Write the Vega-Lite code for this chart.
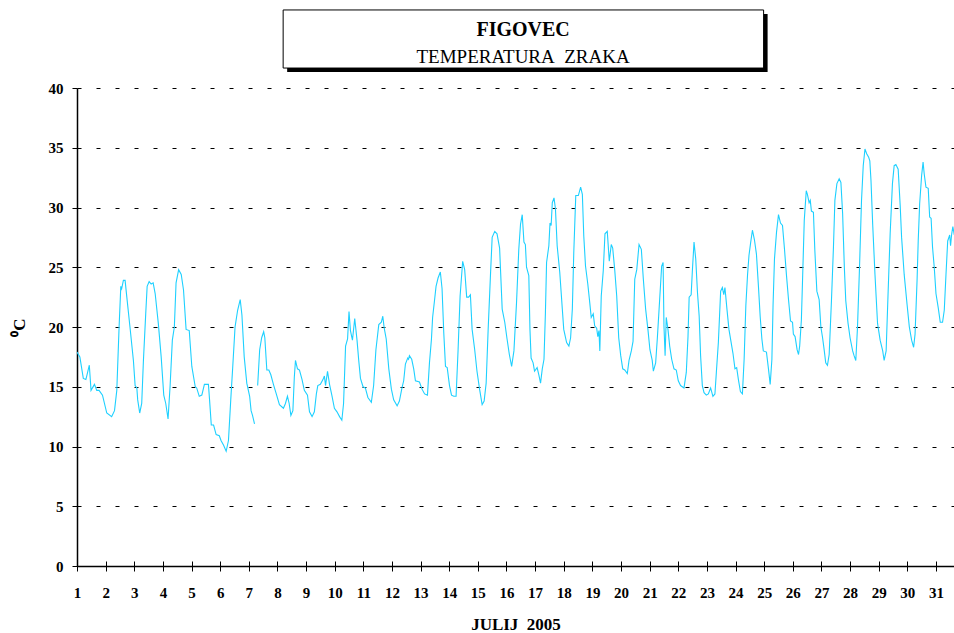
{
  "$schema": "https://vega.github.io/schema/vega-lite/v6.json",
  "width": 877,
  "height": 478,
  "autosize": "none",
  "padding": {"left": 77, "top": 88, "right": 0, "bottom": 67},
  "background": "white",
  "config": {
    "view": {"stroke": null},
    "font": "Liberation Serif",
    "axis": {"labelFont": "Liberation Serif", "titleFont": "Liberation Serif", "labelColor": "black", "titleColor": "black"}
  },
  "datasets": {
    "temp": [
      {"day":1.00,"temp":17.9,"seg":1},{"day":1.10,"temp":17.5,"seg":1},{"day":1.22,"temp":15.7,"seg":1},{"day":1.31,"temp":15.6,"seg":1},{"day":1.36,"temp":16.1,"seg":1},{"day":1.43,"temp":16.8,"seg":1},{"day":1.49,"temp":14.7,"seg":1},{"day":1.61,"temp":15.2,"seg":1},{"day":1.69,"temp":14.7,"seg":1},{"day":1.77,"temp":14.7,"seg":1},{"day":1.89,"temp":14.3,"seg":1},{"day":2.04,"temp":12.8,"seg":1},{"day":2.21,"temp":12.5,"seg":1},{"day":2.31,"temp":13.0,"seg":1},{"day":2.39,"temp":14.7,"seg":1},{"day":2.47,"temp":20.0,"seg":1},{"day":2.53,"temp":23.4,"seg":1},{"day":2.56,"temp":23.2,"seg":1},{"day":2.62,"temp":23.9,"seg":1},{"day":2.68,"temp":23.9,"seg":1},{"day":2.74,"temp":22.5,"seg":1},{"day":2.85,"temp":20.0,"seg":1},{"day":2.97,"temp":17.2,"seg":1},{"day":3.03,"temp":15.1,"seg":1},{"day":3.09,"temp":14.9,"seg":1},{"day":3.12,"temp":13.9,"seg":1},{"day":3.19,"temp":12.8,"seg":1},{"day":3.26,"temp":13.6,"seg":1},{"day":3.32,"temp":17.2,"seg":1},{"day":3.40,"temp":21.1,"seg":1},{"day":3.45,"temp":23.4,"seg":1},{"day":3.52,"temp":23.8,"seg":1},{"day":3.59,"temp":23.6,"seg":1},{"day":3.66,"temp":23.7,"seg":1},{"day":3.73,"temp":22.8,"seg":1},{"day":3.84,"temp":20.3,"seg":1},{"day":3.94,"temp":17.5,"seg":1},{"day":4.03,"temp":14.3,"seg":1},{"day":4.10,"temp":13.6,"seg":1},{"day":4.18,"temp":12.3,"seg":1},{"day":4.25,"temp":15.0,"seg":1},{"day":4.33,"temp":18.9,"seg":1},{"day":4.40,"temp":20.0,"seg":1},{"day":4.46,"temp":23.7,"seg":1},{"day":4.55,"temp":24.8,"seg":1},{"day":4.64,"temp":24.4,"seg":1},{"day":4.72,"temp":23.1,"seg":1},{"day":4.81,"temp":19.8,"seg":1},{"day":4.92,"temp":19.7,"seg":1},{"day":5.01,"temp":16.7,"seg":1},{"day":5.13,"temp":15.0,"seg":1},{"day":5.18,"temp":14.9,"seg":1},{"day":5.27,"temp":14.2,"seg":1},{"day":5.36,"temp":14.3,"seg":1},{"day":5.45,"temp":15.2,"seg":1},{"day":5.59,"temp":15.2,"seg":1},{"day":5.63,"temp":13.9,"seg":1},{"day":5.69,"temp":11.8,"seg":1},{"day":5.77,"temp":11.8,"seg":1},{"day":5.86,"temp":11.0,"seg":1},{"day":5.97,"temp":10.9,"seg":1},{"day":6.03,"temp":10.5,"seg":1},{"day":6.12,"temp":10.1,"seg":1},{"day":6.21,"temp":9.6,"seg":1},{"day":6.29,"temp":10.5,"seg":1},{"day":6.37,"temp":13.9,"seg":1},{"day":6.44,"temp":16.7,"seg":1},{"day":6.52,"temp":20.0,"seg":1},{"day":6.61,"temp":21.4,"seg":1},{"day":6.70,"temp":22.3,"seg":1},{"day":6.76,"temp":21.0,"seg":1},{"day":6.84,"temp":17.5,"seg":1},{"day":6.93,"temp":15.3,"seg":1},{"day":7.03,"temp":14.2,"seg":1},{"day":7.08,"temp":13.0,"seg":1},{"day":7.13,"temp":12.6,"seg":1},{"day":7.20,"temp":11.9,"seg":1},
      {"day":7.31,"temp":15.1,"seg":2},{"day":7.38,"temp":18.1,"seg":2},{"day":7.45,"temp":19.1,"seg":2},{"day":7.52,"temp":19.6,"seg":2},{"day":7.56,"temp":19.1,"seg":2},{"day":7.63,"temp":16.4,"seg":2},{"day":7.70,"temp":16.4,"seg":2},{"day":7.77,"temp":16.0,"seg":2},{"day":7.86,"temp":15.2,"seg":2},{"day":7.96,"temp":14.4,"seg":2},{"day":8.07,"temp":13.5,"seg":2},{"day":8.21,"temp":13.2,"seg":2},{"day":8.28,"temp":13.6,"seg":2},{"day":8.35,"temp":14.2,"seg":2},{"day":8.41,"temp":13.6,"seg":2},{"day":8.47,"temp":12.6,"seg":2},{"day":8.54,"temp":13.0,"seg":2},{"day":8.59,"temp":15.8,"seg":2},{"day":8.63,"temp":17.2,"seg":2},{"day":8.70,"temp":16.5,"seg":2},{"day":8.77,"temp":16.4,"seg":2},{"day":8.86,"temp":15.6,"seg":2},{"day":8.94,"temp":14.7,"seg":2},{"day":9.05,"temp":14.3,"seg":2},{"day":9.12,"temp":12.9,"seg":2},{"day":9.21,"temp":12.5,"seg":2},{"day":9.29,"temp":12.9,"seg":2},{"day":9.36,"temp":14.4,"seg":2},{"day":9.41,"temp":15.1,"seg":2},{"day":9.50,"temp":15.2,"seg":2},{"day":9.59,"temp":15.6,"seg":2},{"day":9.64,"temp":15.9,"seg":2},{"day":9.68,"temp":15.1,"seg":2},{"day":9.75,"temp":16.3,"seg":2},{"day":9.82,"temp":15.2,"seg":2},{"day":9.90,"temp":14.3,"seg":2},{"day":9.99,"temp":13.2,"seg":2},{"day":10.08,"temp":12.9,"seg":2},{"day":10.17,"temp":12.5,"seg":2},{"day":10.25,"temp":12.2,"seg":2},{"day":10.31,"temp":13.6,"seg":2},{"day":10.38,"temp":18.4,"seg":2},{"day":10.45,"temp":19.0,"seg":2},{"day":10.50,"temp":21.3,"seg":2},{"day":10.55,"temp":19.7,"seg":2},{"day":10.62,"temp":18.9,"seg":2},{"day":10.70,"temp":20.7,"seg":2},{"day":10.78,"temp":18.9,"seg":2},{"day":10.84,"temp":17.2,"seg":2},{"day":10.90,"temp":15.7,"seg":2},{"day":10.99,"temp":15.0,"seg":2},{"day":11.07,"temp":14.9,"seg":2},{"day":11.16,"temp":14.1,"seg":2},{"day":11.28,"temp":13.7,"seg":2},{"day":11.36,"temp":15.1,"seg":2},{"day":11.44,"temp":18.1,"seg":2},{"day":11.54,"temp":20.2,"seg":2},{"day":11.63,"temp":20.4,"seg":2},{"day":11.68,"temp":20.9,"seg":2},{"day":11.73,"temp":19.9,"seg":2},{"day":11.80,"temp":19.0,"seg":2},{"day":11.89,"temp":16.5,"seg":2},{"day":11.98,"temp":14.8,"seg":2},{"day":12.06,"temp":13.9,"seg":2},{"day":12.18,"temp":13.4,"seg":2},{"day":12.26,"temp":13.8,"seg":2},{"day":12.35,"temp":14.9,"seg":2},{"day":12.41,"temp":15.5,"seg":2},{"day":12.47,"temp":16.9,"seg":2},{"day":12.55,"temp":17.4,"seg":2},{"day":12.58,"temp":17.3,"seg":2},{"day":12.61,"temp":17.6,"seg":2},{"day":12.69,"temp":17.3,"seg":2},{"day":12.76,"temp":16.5,"seg":2},{"day":12.82,"temp":15.5,"seg":2},{"day":12.96,"temp":15.4,"seg":2},{"day":13.05,"temp":14.8,"seg":2},{"day":13.14,"temp":14.4,"seg":2},{"day":13.24,"temp":14.3,"seg":2},{"day":13.31,"temp":17.0,"seg":2},{"day":13.38,"temp":19.0,"seg":2},{"day":13.42,"temp":20.8,"seg":2},{"day":13.49,"temp":22.3,"seg":2},{"day":13.54,"temp":23.4,"seg":2},{"day":13.61,"temp":24.1,"seg":2},{"day":13.69,"temp":24.6,"seg":2},{"day":13.75,"temp":23.2,"seg":2},{"day":13.81,"temp":19.5,"seg":2},{"day":13.87,"temp":16.7,"seg":2},{"day":13.93,"temp":16.6,"seg":2},{"day":14.01,"temp":15.1,"seg":2},{"day":14.08,"temp":14.3,"seg":2},{"day":14.16,"temp":14.2,"seg":2},{"day":14.24,"temp":14.2,"seg":2},{"day":14.31,"temp":18.1,"seg":2},{"day":14.38,"temp":22.6,"seg":2},{"day":14.47,"temp":25.5,"seg":2},{"day":14.54,"temp":24.8,"seg":2},{"day":14.61,"temp":22.5,"seg":2},{"day":14.68,"temp":22.5,"seg":2},{"day":14.74,"temp":22.7,"seg":2},{"day":14.80,"temp":19.8,"seg":2},{"day":14.89,"temp":18.1,"seg":2},{"day":14.97,"temp":16.3,"seg":2},{"day":15.06,"temp":14.8,"seg":2},{"day":15.15,"temp":13.5,"seg":2},{"day":15.22,"temp":13.8,"seg":2},{"day":15.29,"temp":15.3,"seg":2},{"day":15.36,"temp":19.8,"seg":2},{"day":15.44,"temp":24.3,"seg":2},{"day":15.50,"temp":27.5,"seg":2},{"day":15.59,"temp":28.0,"seg":2},{"day":15.67,"temp":27.8,"seg":2},{"day":15.76,"temp":26.6,"seg":2},{"day":15.85,"temp":21.5,"seg":2},{"day":15.94,"temp":20.4,"seg":2},{"day":16.02,"temp":19.0,"seg":2},{"day":16.10,"temp":17.7,"seg":2},{"day":16.18,"temp":16.7,"seg":2},{"day":16.26,"temp":18.0,"seg":2},{"day":16.35,"temp":22.0,"seg":2},{"day":16.43,"temp":26.5,"seg":2},{"day":16.49,"temp":28.6,"seg":2},{"day":16.55,"temp":29.4,"seg":2},{"day":16.61,"temp":27.1,"seg":2},{"day":16.66,"temp":26.9,"seg":2},{"day":16.70,"temp":25.0,"seg":2},{"day":16.78,"temp":24.3,"seg":2},{"day":16.82,"temp":19.8,"seg":2},{"day":16.86,"temp":17.4,"seg":2},{"day":16.93,"temp":17.0,"seg":2},{"day":16.98,"temp":16.3,"seg":2},{"day":17.07,"temp":16.6,"seg":2},{"day":17.13,"temp":16.0,"seg":2},{"day":17.19,"temp":15.3,"seg":2},{"day":17.25,"temp":16.5,"seg":2},{"day":17.31,"temp":17.3,"seg":2},{"day":17.36,"temp":21.2,"seg":2},{"day":17.40,"temp":25.4,"seg":2},{"day":17.48,"temp":26.8,"seg":2},{"day":17.52,"temp":28.7,"seg":2},{"day":17.56,"temp":28.5,"seg":2},{"day":17.60,"temp":30.4,"seg":2},{"day":17.66,"temp":30.8,"seg":2},{"day":17.71,"temp":29.9,"seg":2},{"day":17.77,"temp":26.8,"seg":2},{"day":17.86,"temp":24.6,"seg":2},{"day":17.95,"temp":21.5,"seg":2},{"day":18.00,"temp":19.8,"seg":2},{"day":18.10,"temp":18.7,"seg":2},{"day":18.18,"temp":18.4,"seg":2},{"day":18.24,"temp":19.1,"seg":2},{"day":18.30,"temp":21.5,"seg":2},{"day":18.35,"temp":26.2,"seg":2},{"day":18.42,"temp":31.0,"seg":2},{"day":18.51,"temp":31.0,"seg":2},{"day":18.59,"temp":31.7,"seg":2},{"day":18.65,"temp":31.1,"seg":2},{"day":18.70,"temp":27.6,"seg":2},{"day":18.76,"temp":25.1,"seg":2},{"day":18.84,"temp":23.6,"seg":2},{"day":18.91,"temp":22.0,"seg":2},{"day":18.96,"temp":20.8,"seg":2},{"day":19.03,"temp":21.1,"seg":2},{"day":19.08,"temp":20.1,"seg":2},{"day":19.15,"temp":19.9,"seg":2},{"day":19.19,"temp":19.2,"seg":2},{"day":19.23,"temp":19.7,"seg":2},{"day":19.26,"temp":18.0,"seg":2},{"day":19.31,"temp":22.6,"seg":2},{"day":19.38,"temp":24.7,"seg":2},{"day":19.44,"temp":27.8,"seg":2},{"day":19.52,"temp":28.0,"seg":2},{"day":19.59,"temp":25.5,"seg":2},{"day":19.66,"temp":26.9,"seg":2},{"day":19.71,"temp":26.6,"seg":2},{"day":19.78,"temp":24.8,"seg":2},{"day":19.85,"temp":22.6,"seg":2},{"day":19.92,"temp":19.1,"seg":2},{"day":19.99,"temp":17.6,"seg":2},{"day":20.06,"temp":16.5,"seg":2},{"day":20.13,"temp":16.4,"seg":2},{"day":20.22,"temp":16.1,"seg":2},{"day":20.28,"temp":17.2,"seg":2},{"day":20.36,"temp":18.0,"seg":2},{"day":20.42,"temp":18.8,"seg":2},{"day":20.48,"temp":24.0,"seg":2},{"day":20.55,"temp":24.8,"seg":2},{"day":20.63,"temp":26.9,"seg":2},{"day":20.71,"temp":26.5,"seg":2},{"day":20.78,"temp":24.0,"seg":2},{"day":20.86,"temp":21.5,"seg":2},{"day":20.94,"temp":19.8,"seg":2},{"day":21.01,"temp":18.1,"seg":2},{"day":21.09,"temp":17.2,"seg":2},{"day":21.13,"temp":16.3,"seg":2},{"day":21.21,"temp":17.0,"seg":2},{"day":21.27,"temp":19.1,"seg":2},{"day":21.35,"temp":22.3,"seg":2},{"day":21.42,"temp":25.1,"seg":2},{"day":21.47,"temp":25.4,"seg":2},{"day":21.50,"temp":20.1,"seg":2},{"day":21.54,"temp":17.6,"seg":2},{"day":21.58,"temp":20.8,"seg":2},{"day":21.64,"temp":19.8,"seg":2},{"day":21.70,"temp":18.4,"seg":2},{"day":21.77,"temp":17.3,"seg":2},{"day":21.85,"temp":16.5,"seg":2},{"day":21.93,"temp":16.4,"seg":2},{"day":22.00,"temp":15.5,"seg":2},{"day":22.08,"temp":15.1,"seg":2},{"day":22.20,"temp":14.9,"seg":2},{"day":22.28,"temp":16.2,"seg":2},{"day":22.34,"temp":19.2,"seg":2},{"day":22.38,"temp":22.5,"seg":2},{"day":22.45,"temp":22.7,"seg":2},{"day":22.49,"temp":24.6,"seg":2},{"day":22.55,"temp":27.1,"seg":2},{"day":22.61,"temp":25.7,"seg":2},{"day":22.67,"temp":22.9,"seg":2},{"day":22.73,"temp":20.9,"seg":2},{"day":22.78,"temp":17.6,"seg":2},{"day":22.84,"temp":15.1,"seg":2},{"day":22.90,"temp":14.5,"seg":2},{"day":22.98,"temp":14.3,"seg":2},{"day":23.05,"temp":14.4,"seg":2},{"day":23.13,"temp":14.9,"seg":2},{"day":23.21,"temp":14.2,"seg":2},{"day":23.28,"temp":14.4,"seg":2},{"day":23.33,"temp":16.2,"seg":2},{"day":23.40,"temp":18.7,"seg":2},{"day":23.48,"temp":23.0,"seg":2},{"day":23.54,"temp":23.3,"seg":2},{"day":23.59,"temp":22.7,"seg":2},{"day":23.63,"temp":23.3,"seg":2},{"day":23.70,"temp":21.5,"seg":2},{"day":23.77,"temp":19.8,"seg":2},{"day":23.84,"temp":18.8,"seg":2},{"day":23.91,"temp":17.8,"seg":2},{"day":23.98,"temp":16.5,"seg":2},{"day":24.04,"temp":16.6,"seg":2},{"day":24.10,"temp":15.6,"seg":2},{"day":24.17,"temp":14.6,"seg":2},{"day":24.24,"temp":14.4,"seg":2},{"day":24.30,"temp":17.3,"seg":2},{"day":24.36,"temp":21.8,"seg":2},{"day":24.42,"temp":24.4,"seg":2},{"day":24.47,"temp":26.0,"seg":2},{"day":24.53,"temp":27.1,"seg":2},{"day":24.59,"temp":28.1,"seg":2},{"day":24.66,"temp":27.3,"seg":2},{"day":24.73,"temp":26.1,"seg":2},{"day":24.80,"temp":23.4,"seg":2},{"day":24.86,"temp":20.9,"seg":2},{"day":24.92,"temp":19.0,"seg":2},{"day":24.97,"temp":18.0,"seg":2},{"day":25.08,"temp":17.9,"seg":2},{"day":25.15,"temp":16.5,"seg":2},{"day":25.21,"temp":15.2,"seg":2},{"day":25.27,"temp":17.3,"seg":2},{"day":25.31,"temp":21.8,"seg":2},{"day":25.36,"temp":25.7,"seg":2},{"day":25.43,"temp":27.9,"seg":2},{"day":25.50,"temp":29.4,"seg":2},{"day":25.57,"temp":28.7,"seg":2},{"day":25.64,"temp":28.5,"seg":2},{"day":25.71,"temp":26.5,"seg":2},{"day":25.78,"temp":24.3,"seg":2},{"day":25.85,"temp":22.3,"seg":2},{"day":25.92,"temp":20.5,"seg":2},{"day":25.99,"temp":20.4,"seg":2},{"day":26.02,"temp":19.4,"seg":2},{"day":26.08,"temp":19.2,"seg":2},{"day":26.15,"temp":18.1,"seg":2},{"day":26.20,"temp":17.7,"seg":2},{"day":26.24,"temp":18.4,"seg":2},{"day":26.30,"temp":20.6,"seg":2},{"day":26.34,"temp":23.9,"seg":2},{"day":26.40,"temp":28.9,"seg":2},{"day":26.47,"temp":31.4,"seg":2},{"day":26.51,"temp":31.1,"seg":2},{"day":26.57,"temp":30.4,"seg":2},{"day":26.61,"temp":30.6,"seg":2},{"day":26.65,"temp":29.7,"seg":2},{"day":26.72,"temp":29.6,"seg":2},{"day":26.77,"temp":26.4,"seg":2},{"day":26.84,"temp":23.0,"seg":2},{"day":26.92,"temp":22.3,"seg":2},{"day":26.98,"temp":20.0,"seg":2},{"day":27.04,"temp":19.1,"seg":2},{"day":27.10,"temp":18.0,"seg":2},{"day":27.15,"temp":17.0,"seg":2},{"day":27.21,"temp":16.8,"seg":2},{"day":27.27,"temp":17.7,"seg":2},{"day":27.35,"temp":22.2,"seg":2},{"day":27.42,"temp":26.7,"seg":2},{"day":27.47,"temp":30.6,"seg":2},{"day":27.54,"temp":32.0,"seg":2},{"day":27.62,"temp":32.4,"seg":2},{"day":27.68,"temp":32.1,"seg":2},{"day":27.74,"temp":29.5,"seg":2},{"day":27.80,"temp":25.0,"seg":2},{"day":27.85,"temp":22.2,"seg":2},{"day":27.93,"temp":20.3,"seg":2},{"day":28.00,"temp":19.1,"seg":2},{"day":28.09,"temp":18.0,"seg":2},{"day":28.14,"temp":17.6,"seg":2},{"day":28.20,"temp":17.2,"seg":2},{"day":28.26,"temp":20.0,"seg":2},{"day":28.33,"temp":25.0,"seg":2},{"day":28.40,"temp":30.6,"seg":2},{"day":28.46,"temp":33.5,"seg":2},{"day":28.52,"temp":34.9,"seg":2},{"day":28.58,"temp":34.5,"seg":2},{"day":28.65,"temp":34.2,"seg":2},{"day":28.69,"temp":33.9,"seg":2},{"day":28.73,"temp":32.3,"seg":2},{"day":28.79,"temp":28.6,"seg":2},{"day":28.87,"temp":24.4,"seg":2},{"day":28.96,"temp":20.3,"seg":2},{"day":29.05,"temp":18.9,"seg":2},{"day":29.14,"temp":18.0,"seg":2},{"day":29.19,"temp":17.2,"seg":2},{"day":29.26,"temp":18.0,"seg":2},{"day":29.33,"temp":23.0,"seg":2},{"day":29.40,"temp":27.8,"seg":2},{"day":29.48,"temp":32.0,"seg":2},{"day":29.54,"temp":33.5,"seg":2},{"day":29.60,"temp":33.6,"seg":2},{"day":29.68,"temp":33.2,"seg":2},{"day":29.75,"temp":30.2,"seg":2},{"day":29.80,"temp":27.5,"seg":2},{"day":29.89,"temp":24.4,"seg":2},{"day":29.99,"temp":21.9,"seg":2},{"day":30.07,"temp":20.0,"seg":2},{"day":30.15,"temp":18.9,"seg":2},{"day":30.22,"temp":18.3,"seg":2},{"day":30.27,"temp":19.4,"seg":2},{"day":30.34,"temp":23.9,"seg":2},{"day":30.38,"temp":27.2,"seg":2},{"day":30.43,"temp":30.3,"seg":2},{"day":30.50,"temp":32.7,"seg":2},{"day":30.55,"temp":33.8,"seg":2},{"day":30.59,"temp":32.8,"seg":2},{"day":30.65,"temp":31.7,"seg":2},{"day":30.73,"temp":31.6,"seg":2},{"day":30.78,"temp":29.2,"seg":2},{"day":30.83,"temp":29.1,"seg":2},{"day":30.88,"temp":26.7,"seg":2},{"day":30.94,"temp":25.0,"seg":2},{"day":31.00,"temp":22.8,"seg":2},{"day":31.08,"temp":21.6,"seg":2},{"day":31.15,"temp":20.4,"seg":2},{"day":31.23,"temp":20.4,"seg":2},{"day":31.29,"temp":21.4,"seg":2},{"day":31.35,"temp":24.4,"seg":2},{"day":31.41,"temp":27.2,"seg":2},{"day":31.48,"temp":27.7,"seg":2},{"day":31.51,"temp":26.8,"seg":2},{"day":31.55,"temp":27.8,"seg":2},{"day":31.59,"temp":28.4,"seg":2},{"day":31.64,"temp":27.7,"seg":2}
    ]
  },
  "resolve": {"axis": {"x": "independent", "y": "independent"}},
  "layer": [
    {
      "data": {"values": [{}]},
      "mark": {"type": "rect", "color": "black"},
      "encoding": {
        "x": {"datum": 8.34, "type": "quantitative", "scale": {"domain": [1, 31.63], "nice": false, "zero": false}, "axis": null},
        "x2": {"datum": 25.12},
        "y": {"datum": 46.19, "type": "quantitative", "scale": {"domain": [0, 40], "nice": false}, "axis": null},
        "y2": {"datum": 41.34}
      }
    },
    {
      "data": {"values": [{}]},
      "mark": {"type": "rect", "fill": "white", "stroke": "black", "strokeWidth": 1},
      "encoding": {
        "x": {"datum": 8.2, "type": "quantitative", "axis": null},
        "x2": {"datum": 24.98},
        "y": {"datum": 46.53, "type": "quantitative", "axis": null},
        "y2": {"datum": 41.67}
      }
    },
    {
      "data": {"values": [{"label": "FIGOVEC"}]},
      "mark": {"type": "text", "font": "Liberation Serif", "fontSize": 20, "fontWeight": "bold", "color": "black", "align": "center", "baseline": "middle"},
      "encoding": {
        "x": {"datum": 16.58, "type": "quantitative", "axis": null},
        "y": {"datum": 44.82, "type": "quantitative", "axis": null},
        "text": {"field": "label"}
      }
    },
    {
      "data": {"values": [{"label": "TEMPERATURA\u00a0 ZRAKA"}]},
      "mark": {"type": "text", "font": "Liberation Serif", "fontSize": 19, "fontWeight": "normal", "color": "black", "align": "center", "baseline": "middle"},
      "encoding": {
        "x": {"datum": 16.58, "type": "quantitative", "axis": null},
        "y": {"datum": 42.58, "type": "quantitative", "axis": null},
        "text": {"field": "label"}
      }
    },
    {
      "data": {"name": "temp"},
      "mark": {"type": "line", "color": "#1ED0FF", "strokeWidth": 1.1, "clip": true},
      "encoding": {
        "x": {
          "field": "day", "type": "quantitative",
          "axis": {
            "orient": "bottom",
            "values": [1,2,3,4,5,6,7,8,9,10,11,12,13,14,15,16,17,18,19,20,21,22,23,24,25,26,27,28,29,30,31],
            "format": "d",
            "grid": false,
            "domainColor": "black", "domainWidth": 1.5,
            "tickColor": "black", "tickSize": 5, "tickWidth": 1,
            "labelFontSize": 15, "labelFontWeight": "bold", "labelPadding": 14,
            "labelFlush": false, "labelOverlap": false,
            "title": "JULIJ\u00a0 2005", "titleFontSize": 17, "titleFontWeight": "bold", "titlePadding": 16
          }
        },
        "y": {
          "field": "temp", "type": "quantitative",
          "axis": {
            "values": [0,5,10,15,20,25,30,35,40],
            "grid": true, "gridColor": "black", "gridDash": [4, 15], "gridWidth": 1, "gridOpacity": 1,
            "domainColor": "black", "domainWidth": 1.5,
            "tickColor": "black", "tickSize": 5, "tickWidth": 1,
            "labelFontSize": 15, "labelFontWeight": "bold", "labelPadding": 9,
            "title": "⁰C", "titleFontSize": 17, "titleFontWeight": "bold", "titlePadding": 20
          }
        },
        "detail": {"field": "seg", "type": "nominal"}
      }
    },
    {
      "data": {"name": "temp"},
      "mark": {"type": "line", "opacity": 0},
      "encoding": {
        "x": {
          "field": "day", "type": "quantitative",
          "axis": {
            "orient": "bottom",
            "values": [1,2,3,4,5,6,7,8,9,10,11,12,13,14,15,16,17,18,19,20,21,22,23,24,25,26,27,28,29,30,31],
            "grid": false, "domain": false, "labels": false, "title": null,
            "tickColor": "black", "tickSize": -5, "tickWidth": 1
          }
        },
        "y": {"field": "temp", "type": "quantitative", "axis": null}
      }
    }
  ]
}
